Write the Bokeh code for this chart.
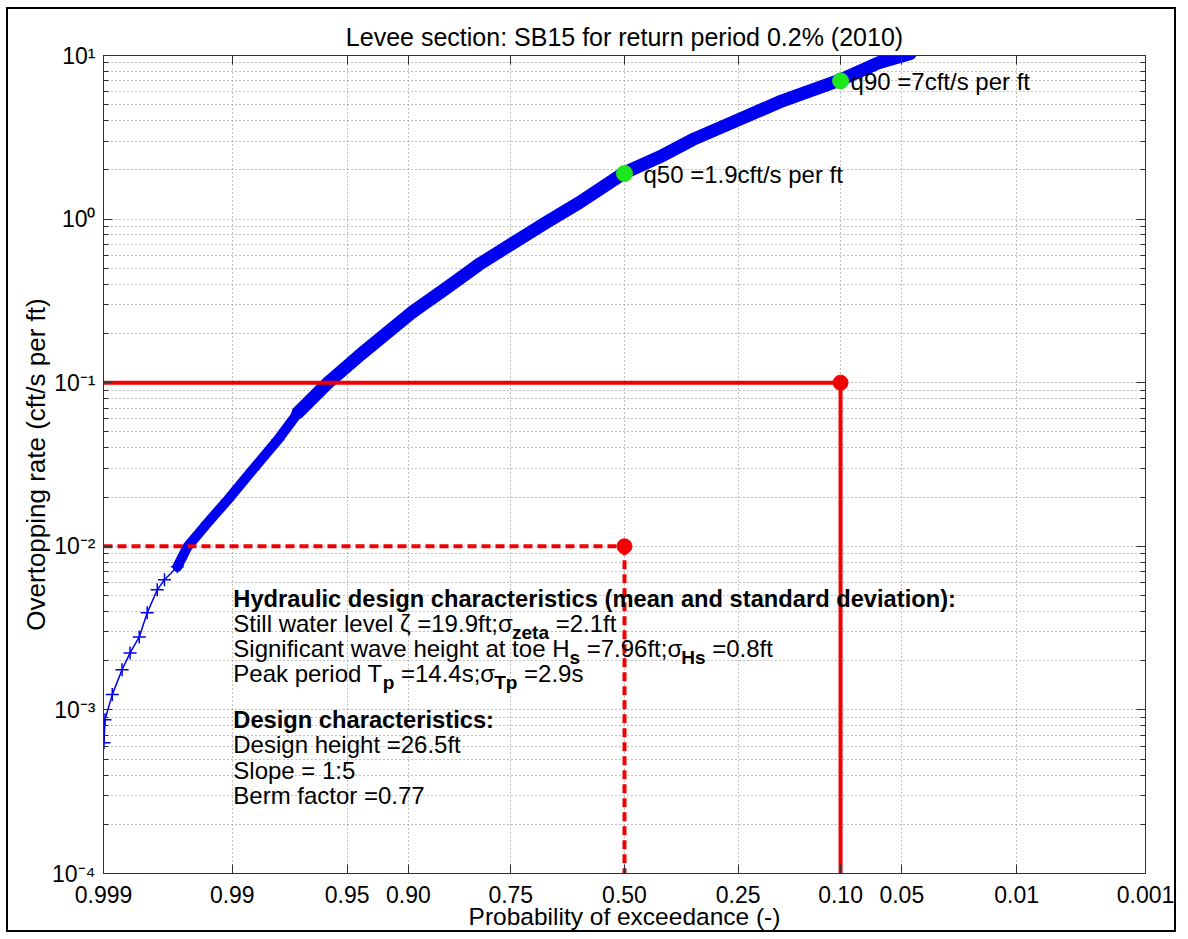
import math
from statistics import NormalDist
from bokeh.plotting import figure
from bokeh.models import (Range1d, FixedTicker, CustomJSTickFormatter, LinearAxis,
                          LogAxis, Label, ColumnDataSource)
from bokeh.embed import file_html
from bokeh.resources import INLINE

# ---------------- data ----------------
exceed_prob = [0.99899, 0.99897, 0.99881, 0.99856, 0.99832, 0.99800, 0.99768, 0.99721,
               0.99682, 0.99600, 0.99523, 0.99330, 0.99071, 0.98627, 0.9801, 0.9736,
               0.9606, 0.9407, 0.8967, 0.8556, 0.8062, 0.7477, 0.679, 0.6057,
               0.50, 0.4174, 0.3435, 0.261, 0.179, 0.10, 0.0652, 0.045]
overtop_rate = [6.3e-4, 8.7e-4, 1.24e-3, 1.76e-3, 2.23e-3, 2.79e-3, 3.92e-3, 5.42e-3,
                6.24e-3, 7.5e-3, 9.93e-3, 1.39e-2, 1.92e-2, 2.94e-2, 4.48e-2, 6.56e-2,
                0.100, 0.150, 0.268, 0.376, 0.527, 0.708, 0.953, 1.26,
                1.92, 2.4, 3.06, 3.9, 5.2, 7.1, 9.07, 10.3]

quantile_prob = [0.5, 0.1]
quantile_rate = [1.9, 7.0]
quantile_text = ["q50 =1.9cft/s per ft", "q90 =7cft/s per ft"]

criteria_prob = [0.1, 0.5]
criteria_rate = [0.1, 0.01]

x_tick_prob = [0.999, 0.99, 0.95, 0.90, 0.75, 0.50, 0.25, 0.10, 0.05, 0.01, 0.001]
x_tick_text = ["0.999", "0.99", "0.95", "0.90", "0.75", "0.50", "0.25", "0.10",
               "0.05", "0.01", "0.001"]
y_tick_exp = [-4, -3, -2, -1, 0, 1]

title_text = "Levee section: SB15 for return period 0.2% (2010)"
x_label = "Probability of exceedance (-)"
y_label = "Overtopping rate (cft/s per ft)"

# ---------------- helpers ----------------
ND = NormalDist()


def zq(prob):
    """normal-probability-paper coordinate of an exceedance probability"""
    return ND.inv_cdf(1.0 - prob)


FONT = "Liberation Sans"
BLUE = "#0000f0"
RED = "#f00000"
GREEN = "#1ee61e"
PX_PER_DEC = 163.6  # frame height / number of decades

W_REG = {' ': 278, '%': 889, '(': 333, ')': 333, '-': 333, '.': 278, '/': 278, ':': 278,
         ';': 278, '=': 584, 'ζ': 450, 'σ': 575}
for c in "0123456789":
    W_REG[c] = 556
W_REG.update(dict(zip("ABCDEFGHIJKLMNOPQRSTUVWXYZ",
                      [667, 667, 722, 722, 667, 611, 778, 722, 278, 500, 667, 556, 833,
                       722, 778, 667, 778, 722, 667, 611, 722, 667, 944, 667, 667, 611])))
W_REG.update(dict(zip("abcdefghijklmnopqrstuvwxyz",
                      [556, 556, 500, 556, 556, 278, 556, 556, 222, 222, 500, 222, 833,
                       556, 556, 556, 556, 333, 500, 278, 556, 500, 722, 500, 500, 500])))
W_BOLD = {'z': 500, 'e': 556, 't': 333, 'a': 556, 's': 556, 'H': 722, 'T': 611, 'p': 611}


def text_w(s, size, bold=False):
    tab = W_BOLD if bold else W_REG
    return sum(tab.get(c, 556) for c in s) * size / 1000.0


# ---------------- figure ----------------
x_ticks = [zq(v) for v in x_tick_prob]
y_ticks = [10.0 ** e for e in y_tick_exp]
y_minor = [m * 10.0 ** e for e in y_tick_exp[:-1] for m in range(2, 10)]

p = figure(width=1170, height=925,
           x_range=Range1d(zq(0.999), zq(0.001)), y_range=Range1d(1e-4, 1e1),
           y_axis_type="log", output_backend="svg", toolbar_location=None,
           min_border_left=95, min_border_right=33, min_border_top=46,
           min_border_bottom=61)
p.styles = {"border": "2px solid black", "margin-left": "6px", "margin-top": "7px"}
p.background_fill_color = "white"
p.border_fill_color = "white"
p.outline_line_color = "#303030"
p.outline_line_width = 1

p.title.text = title_text
p.title.align = "center"
p.title.text_font = FONT
p.title.text_font_size = "25px"
p.title.text_font_style = "normal"
p.title.text_color = "black"
p.title.standoff = 10

x_fmt = CustomJSTickFormatter(args=dict(t=x_ticks, l=x_tick_text), code="""
let best = 0, d = Infinity;
for (let i = 0; i < t.length; i++) { const e = Math.abs(t[i] - tick); if (e < d) { d = e; best = i; } }
return l[best];
""")
y_fmt = CustomJSTickFormatter(code="""
const sup = {"-": "\u207b", "0": "\u2070", "1": "\u00b9", "2": "\u00b2", "3": "\u00b3",
             "4": "\u2074", "5": "\u2075", "6": "\u2076", "7": "\u2077", "8": "\u2078", "9": "\u2079"};
const e = Math.round(Math.log10(tick));
return "10" + String(e).split("").map(c => sup[c]).join("");
""")

xa = p.xaxis[0]
xa.ticker = FixedTicker(ticks=x_ticks)
xa.formatter = x_fmt
xa.axis_label = x_label

ya = p.yaxis[0]
ya.ticker = FixedTicker(ticks=y_ticks, minor_ticks=y_minor)
ya.formatter = y_fmt
ya.axis_label = y_label

top = LinearAxis(ticker=FixedTicker(ticks=x_ticks), major_label_text_font_size="1px",
                 major_label_text_color=None, major_label_standoff=0)
right = LogAxis(ticker=FixedTicker(ticks=y_ticks, minor_ticks=y_minor),
                major_label_text_font_size="1px", major_label_text_color=None,
                major_label_standoff=0)
p.add_layout(top, "above")
p.add_layout(right, "right")

for ax in [xa, ya, top, right]:
    ax.axis_line_color = "#303030"
    ax.axis_line_width = 1
    ax.major_tick_line_color = "#303030"
    ax.minor_tick_line_color = "#303030"
    ax.major_tick_in = 9
    ax.major_tick_out = 0
    ax.minor_tick_in = 5
    ax.minor_tick_out = 0
for ax in [xa, ya]:
    ax.major_label_text_font = FONT
    ax.major_label_text_font_size = "23px"
    ax.major_label_text_color = "black"
    ax.axis_label_text_font = FONT
    ax.axis_label_text_font_style = "normal"
    ax.axis_label_text_color = "black"
xa.axis_label_text_font_size = "24.5px"
ya.axis_label_text_font_size = "26px"
xa.major_label_standoff = 12
xa.axis_label_standoff = -3
ya.major_label_standoff = 8
ya.axis_label_standoff = -2

for g in [p.xgrid[0], p.ygrid[0]]:
    g.grid_line_color = "#808080"
    g.grid_line_dash = "1 3"
    g.grid_line_width = 1
p.ygrid[0].minor_grid_line_color = "#808080"
p.ygrid[0].minor_grid_line_dash = "1 3"
p.ygrid[0].minor_grid_line_width = 1

# ---------------- curve ----------------
src = ColumnDataSource(dict(x=[zq(v) for v in exceed_prob], y=overtop_rate))
mid = ColumnDataSource(dict(x=[zq(v) for v in exceed_prob[9:17]], y=overtop_rate[9:17]))
top_part = ColumnDataSource(dict(x=[zq(v) for v in exceed_prob[15:]], y=overtop_rate[15:]))
p.line("x", "y", source=src, line_color=BLUE, line_width=1.5)
p.scatter("x", "y", source=src, marker="cross", size=13, line_color=BLUE, line_width=1.5)
p.line("x", "y", source=mid, line_color=BLUE, line_width=10, line_join="round", line_cap="round")
p.line("x", "y", source=top_part, line_color=BLUE, line_width=13, line_join="round",
       line_cap="round")

# ---------------- criteria lines ----------------
x_left = zq(0.999)
dashes = ["solid", "9 5"]
for pr, qr, dash in zip(criteria_prob, criteria_rate, dashes):
    p.line([x_left, zq(pr)], [qr, qr], line_color=RED, line_width=4, line_dash=dash)
    p.line([zq(pr), zq(pr)], [qr, 1e-4], line_color=RED, line_width=4, line_dash=dash)
p.scatter([zq(v) for v in criteria_prob], criteria_rate, marker="circle", size=15,
          fill_color=RED, line_color=RED)

# ---------------- quantile points ----------------
p.scatter([zq(v) for v in quantile_prob], quantile_rate, marker="circle", size=16,
          fill_color=GREEN, line_color=GREEN)
label_dx = [19, 10]
for pr, qr, txt, dx in zip(quantile_prob, quantile_rate, quantile_text, label_dx):
    p.add_layout(Label(x=zq(pr), y=qr, text=txt, x_offset=dx, y_offset=-1,
                       text_baseline="middle", text_font=FONT, text_font_size="24px",
                       text_color="black"))

# ---------------- annotation block ----------------
FS = 24
FSB = 23.7
FSUB = 19
ann_x = zq(0.99)
line_px = [0, 25, 50, 75, 121, 146, 172, 197]
block = [
    [("Hydraulic design characteristics (mean and standard deviation):", "b")],
    [("Still water level ζ =19.9ft;σ", "n"), ("zeta", "s"), (" =2.1ft", "n")],
    [("Significant wave height at toe H", "n"), ("s", "s"), (" =7.96ft;σ", "n"),
     ("Hs", "s"), (" =0.8ft", "n")],
    [("Peak period T", "n"), ("p", "s"), (" =14.4s;σ", "n"), ("Tp", "s"), (" =2.9s", "n")],
    [("Design characteristics:", "b")],
    [("Design height =26.5ft", "n")],
    [("Slope = 1:5", "n")],
    [("Berm factor =0.77", "n")],
]
LOG_TOP = -2.32
for off, pieces in zip(line_px, block):
    xo = 0.0
    for txt, kind in pieces:
        size = {"s": FSUB, "b": FSB}.get(kind, FS)
        lead = len(txt) - len(txt.lstrip(" "))
        xo += lead * text_w(" ", FS)
        txt = txt.lstrip(" ")
        shift = 9 if kind == "s" else 0
        yy = 10 ** (LOG_TOP - (off + shift) / PX_PER_DEC)
        bold = kind in ("b", "s")
        p.add_layout(Label(x=ann_x, y=yy, x_offset=xo + 1, text=txt, text_baseline="middle",
                           text_font=FONT, text_font_size=f"{size}px",
                           text_font_style="bold" if bold else "normal",
                           text_color="black"))
        xo += text_w(txt, size, bold=(kind == "s"))

open("out.html", "w").write(file_html(p, INLINE))
